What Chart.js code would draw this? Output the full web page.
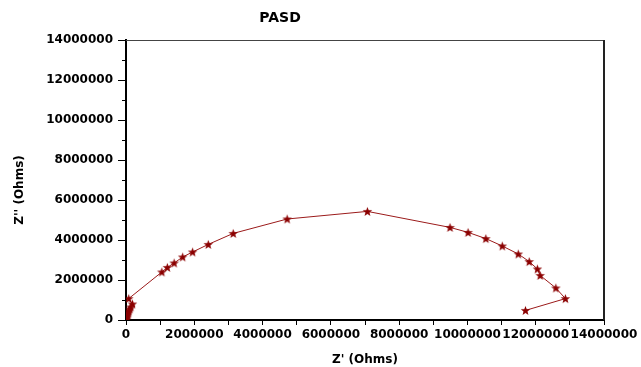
<!DOCTYPE html>
<html>
<head>
<meta charset="utf-8">
<script src="https://cdn.jsdelivr.net/npm/chart.js@4"></script>
<style>
  html, body { margin: 0; padding: 0; background: #ffffff; }
  #wrap { width: 641px; height: 367px; position: relative; }
</style>
</head>
<body>
<div id="wrap"><canvas id="c" width="641" height="367"></canvas></div>
<script>
// Data (Ohms)
const zReal = [20000, 30000, 45000, 60000, 80000, 110000, 140000, 190000, 80000,
  1050000, 1210000, 1410000, 1660000, 1950000, 2410000, 3140000, 4720000, 7070000,
  9490000, 10020000, 10540000, 11020000, 11490000, 11810000, 12050000, 12130000,
  12590000, 12870000, 11700000];
const zImag = [50000, 150000, 250000, 350000, 450000, 550000, 650000, 800000, 1070000,
  2400000, 2630000, 2850000, 3150000, 3400000, 3780000, 4330000, 5050000, 5430000,
  4630000, 4380000, 4070000, 3700000, 3300000, 2920000, 2550000, 2230000,
  1600000, 1070000, 480000];
const chartTitle = 'PASD';
const xTitle = "Z' (Ohms)";
const yTitle = "Z'' (Ohms)";
const axisMin = 0, axisMax = 14000000, majorStep = 2000000, minorStep = 1000000;

const points = zReal.map((x, i) => ({ x: x, y: zImag[i] }));

// filled 5-point star marker
function makeStar(color) {
  const s = 11, c = document.createElement('canvas');
  c.width = s; c.height = s;
  const g = c.getContext('2d');
  const R = 5, r = 2.1, cx = s / 2, cy = s / 2 + 0.4;
  g.beginPath();
  for (let i = 0; i < 10; i++) {
    const rad = i % 2 === 0 ? R : r;
    const a = -Math.PI / 2 + i * Math.PI / 5;
    const px = cx + rad * Math.cos(a), py = cy + rad * Math.sin(a);
    if (i === 0) g.moveTo(px, py); else g.lineTo(px, py);
  }
  g.closePath();
  g.fillStyle = color;
  g.fill();
  return c;
}
const star = makeStar('#8b0000');

const framePlugin = {
  id: 'frame',
  afterDraw(chart) {
    const { ctx, chartArea: a, scales } = chart;
    ctx.save();
    // top & right borders
    ctx.strokeStyle = '#444';
    ctx.lineWidth = 1;
    ctx.beginPath();
    ctx.moveTo(a.left, a.top + 0.5);
    ctx.lineTo(a.right, a.top + 0.5);
    ctx.stroke();
    ctx.strokeStyle = '#222';
    ctx.lineWidth = 2;
    ctx.beginPath();
    ctx.moveTo(a.right, a.top);
    ctx.lineTo(a.right, a.bottom);
    ctx.stroke();
    // minor y ticks
    ctx.strokeStyle = '#000';
    ctx.lineWidth = 1;
    for (let v = axisMin + minorStep; v < axisMax; v += majorStep) {
      const py = Math.round(scales.y.getPixelForValue(v)) + 0.5;
      ctx.beginPath();
      ctx.moveTo(a.left - 4, py);
      ctx.lineTo(a.left, py);
      ctx.stroke();
    }
    // chart title
    ctx.fillStyle = '#000';
    ctx.font = 'bold 14px "DejaVu Sans"';
    ctx.textAlign = 'center';
    ctx.textBaseline = 'middle';
    ctx.fillText(chartTitle, 280, 18);
    // y title
    ctx.font = 'bold 12px "DejaVu Sans"';
    ctx.translate(20, (a.top + a.bottom) / 2 + 10);
    ctx.rotate(-Math.PI / 2);
    ctx.fillText(yTitle, 0, 0);
    ctx.restore();
  }
};

const tickFont = { family: 'DejaVu Sans', size: 12, weight: 'bold' };

new Chart(document.getElementById('c'), {
  type: 'scatter',
  data: {
    datasets: [{
      data: points,
      showLine: true,
      borderColor: '#9b1a1a',
      borderWidth: 1,
      backgroundColor: '#8b0000',
      pointStyle: star,
      pointRadius: 5,
      pointHoverRadius: 5
    }]
  },
  options: {
    responsive: false,
    animation: false,
    events: [],
    layout: { padding: { left: 0, right: 37, top: 40, bottom: 0 } },
    plugins: { legend: { display: false }, tooltip: { enabled: false }, title: { display: false } },
    scales: {
      x: {
        type: 'linear',
        min: axisMin, max: axisMax,
        afterFit(scale) { scale.height = 47; },
        border: { display: true, color: '#000', width: 2 },
        grid: { drawOnChartArea: false, drawTicks: true, tickLength: 5, color: '#000', tickColor: '#000' },
        ticks: {
          stepSize: minorStep, autoSkip: false, maxRotation: 0, color: '#000', font: tickFont, padding: 3,
          callback: (v) => (v % majorStep === 0 ? String(v) : '')
        },
        title: { display: true, text: xTitle, color: '#000', font: { family: 'DejaVu Sans', size: 12, weight: 'bold' }, padding: { top: 4, bottom: 0 } }
      },
      y: {
        type: 'linear',
        min: axisMin, max: axisMax,
        afterFit(scale) { scale.width = 126; },
        border: { display: true, color: '#000', width: 2 },
        grid: {
          drawOnChartArea: false, drawTicks: true, tickLength: 8, color: '#000',
          tickColor: (c) => (c.tick && c.tick.value % majorStep === 0 ? '#000' : 'rgba(0,0,0,0)')
        },
        ticks: {
          stepSize: minorStep, autoSkip: false, color: '#000', font: tickFont, padding: 5,
          callback: (v) => (v % majorStep === 0 ? String(v) : '')
        }
      }
    }
  },
  plugins: [framePlugin]
});
</script>
</body>
</html>
